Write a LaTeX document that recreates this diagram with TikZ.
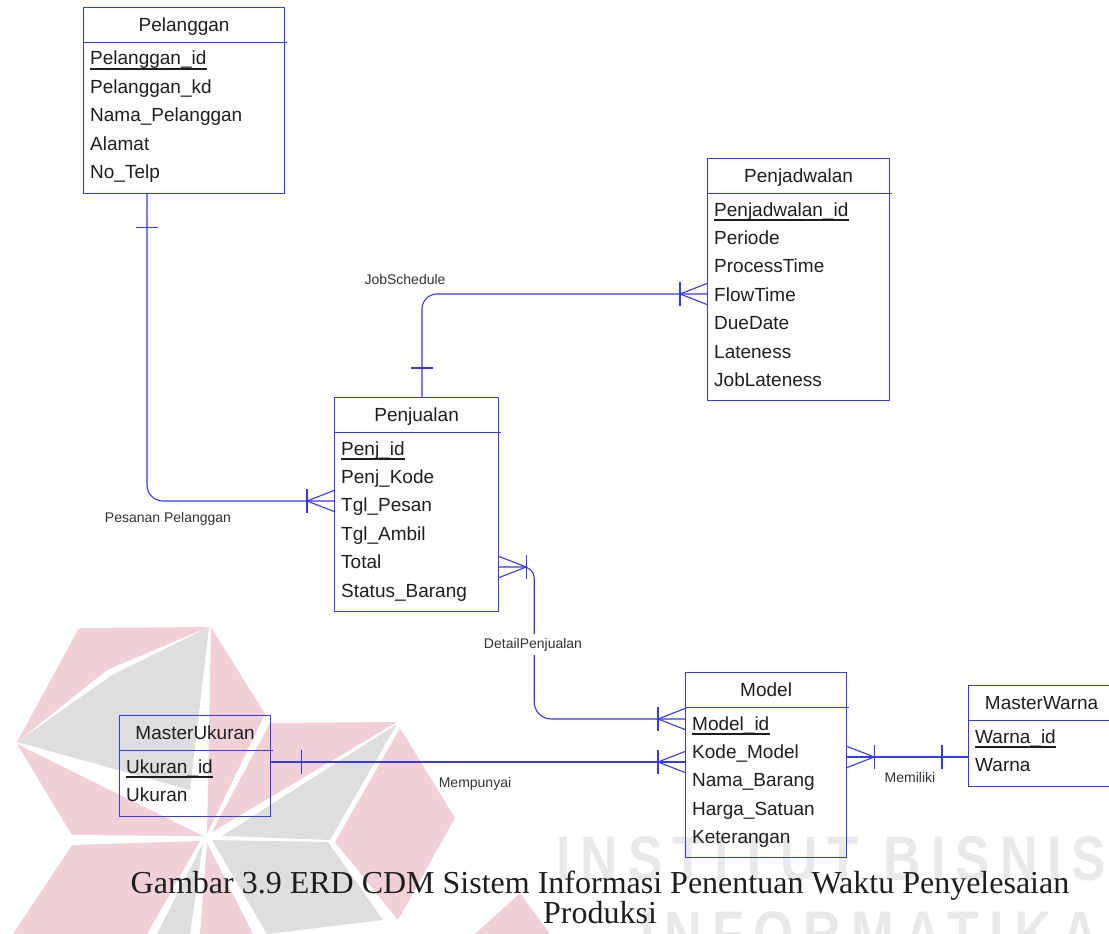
\documentclass[tikz,border=0pt]{standalone}
\usepackage{fontspec}
\setmainfont{Liberation Sans}
\newfontfamily\captionserif{Liberation Serif}
\newfontfamily\markfont{Liberation Sans}[FakeStretch=0.82,LetterSpace=16]
\usetikzlibrary{calc}

\definecolor{erdblue}{RGB}{55,55,250}
\definecolor{inkgray}{RGB}{30,30,30}
\definecolor{lblgray}{RGB}{50,50,50}
\definecolor{logopink}{RGB}{241,209,215}
\definecolor{logogray}{RGB}{222,222,222}
\definecolor{marktext}{RGB}{233,233,233}

\tikzset{
  rel/.style={draw=erdblue, line width=1.1pt},
  tbl/.style={draw=erdblue, line width=1.2pt, inner sep=0pt},
  tblline/.style={draw=erdblue, line width=1.1pt},
  ttl/.style={inner sep=0pt, anchor=base, font=\fontsize{19}{19}\selectfont, text=inkgray},
  attr/.style={inner sep=0pt, anchor=base west, font=\fontsize{19}{19}\selectfont, text=inkgray},
  pkline/.style={draw=inkgray, line width=1.6pt},
  lbl/.style={inner sep=1pt, anchor=base, font=\fontsize{14}{14}\selectfont, text=lblgray},
  capt/.style={inner sep=0pt, anchor=base, font=\captionserif\fontsize{32}{32}\selectfont, text=inkgray},
  wmword/.style={inner sep=0pt, anchor=base west, font=\markfont\bfseries\fontsize{63}{63}\selectfont, text=marktext},
  crowW/.pic={\draw[rel] (0,-10.5) -- (-27,0) -- (0,10.5); \draw[rel] (-27,-12) -- (-27,12);},
  crowE/.pic={\draw[rel] (0,-10.5) -- (27,0) -- (0,10.5); \draw[rel] (27,-12) -- (27,12);},
  tickH/.pic={\draw[rel] (-11,0) -- (11,0);},
  tickV/.pic={\draw[rel] (0,-12) -- (0,12);}
}

% entity box: #1 name, #2 left, #3 top, #4 width, #5 height, #6 title, #7 key, #8 attributes
\newcommand{\erdtable}[8]{%
  \node[tbl, minimum width=#4, minimum height=#5, anchor=north west] (#1) at (#2,#3) {};
  \draw[tblline] ([yshift=-35.5]#1.north west) -- ([yshift=-35.5,xshift=2]#1.north east);
  \node[ttl] (#1-t) at ([yshift=-24.5]#1.north) {#6};
  \node[attr] (#1-0) at ([xshift=7,yshift=-58]#1.north west) {#7};
  \draw[pkline] ([yshift=-4]#1-0.base west) -- ([yshift=-4]#1-0.base east);
  \foreach \a [count=\i] in {#8} {
    \node[attr] (#1-\i) at ([xshift=7,yshift={-58-28.4*\i}]#1.north west) {\a};
  }%
}

\begin{document}
\begin{tikzpicture}[x=1pt, y=-1pt, line join=miter]
\useasboundingbox (0,0) rectangle (1109,934);
\clip (0,0) rectangle (1109,934);

% faint emblem and lettering in the background
\begin{scope}
  \fill[logopink] (79,628) -- (209,627) -- (107,670) -- (17,742) -- cycle;
  \fill[logogray] (209,627) -- (112,675) -- (17,742) -- (190,790) -- cycle;
  \fill[logopink] (17,744) -- (203,836) -- (72,835) -- cycle;
  \fill[logopink] (211,627) -- (265,714) -- (207,834) -- cycle;
  \fill[logopink] (270,723) -- (397,722) -- (212,832) -- cycle;
  \fill[logogray] (397,724) -- (330,840) -- (222,836) -- cycle;
  \fill[logopink] (400,728) -- (455,818) -- (398,920) -- (335,842) -- cycle;
  \fill[logogray] (212,840) -- (328,842) -- (383,920) -- (267,934) -- cycle;
  \fill[logopink] (72,845) -- (200,841) -- (147,934) -- (13,934) -- cycle;
  \fill[logogray] (203,843) -- (157,934) -- (190,934) -- cycle;
  \fill[logopink] (207,843) -- (200,934) -- (253,934) -- cycle;
  \fill[logopink] (475,934) -- (520,893) -- (550,934) -- cycle;
  \node[wmword] (wm1) at (556,880) {INSTITUT BISNIS};
  \node[wmword] (wm2) at (640,955) {INFORMATIKA};
\end{scope}

% entities
\erdtable{pel}{83}{7}{201}{186}{Pelanggan}{Pelanggan\_id}{Pelanggan\_kd,Nama\_Pelanggan,Alamat,No\_Telp}
\erdtable{jad}{707}{158}{182}{242}{Penjadwalan}{Penjadwalan\_id}{Periode,ProcessTime,FlowTime,DueDate,Lateness,JobLateness}
\erdtable{pjl}{334}{397}{164}{214}{Penjualan}{Penj\_id}{Penj\_Kode,Tgl\_Pesan,Tgl\_Ambil,Total,Status\_Barang}
\erdtable{mdl}{685}{672}{161}{185}{Model}{Model\_id}{Kode\_Model,Nama\_Barang,Harga\_Satuan,Keterangan}
\erdtable{uk}{119}{715}{151}{101}{MasterUkuran}{Ukuran\_id}{Ukuran}
\erdtable{wr}{968}{685}{146}{101}{MasterWarna}{Warna\_id}{Warna}

% Pesanan Pelanggan
\draw[rel, rounded corners=16] ([xshift=64]pel.south west) |- ([yshift=-104]pjl.north west);
\pic at ([xshift=64,yshift=-33]pel.south west) {tickH};
\pic at ([yshift=-104]pjl.north west) {crowW};
\node[lbl] (l-pesan) at (168,522) {Pesanan Pelanggan};

% JobSchedule
\draw[rel, rounded corners=15] ([xshift=88]pjl.north west) |- ([yshift=-136]jad.north west);
\pic at ([xshift=88,yshift=29]pjl.north west) {tickH};
\pic at ([yshift=-136]jad.north west) {crowW};
\node[lbl] (l-job) at (405,284) {JobSchedule};

% DetailPenjualan
\draw[rel] ([yshift=-170]pjl.north east) [rounded corners=11] -- ++(35,0) [rounded corners=17] |- ([yshift=-47]mdl.north west);
\pic at ([yshift=-170]pjl.north east) {crowE};
\pic at ([yshift=-47]mdl.north west) {crowW};
\node[lbl, fill=white, inner ysep=4pt] (l-detail) at (533,648) {DetailPenjualan};

% Mempunyai
\draw[rel] ([yshift=-47]uk.north east) -- ([yshift=-90]mdl.north west);
\pic at ([xshift=30,yshift=-47]uk.north east) {tickV};
\pic at ([yshift=-90]mdl.north west) {crowW};
\node[lbl] (l-punya) at (475,787) {Mempunyai};

% Memiliki
\draw[rel] ([yshift=-85]mdl.north east) -- ([yshift=-72]wr.north west);
\pic at ([yshift=-85]mdl.north east) {crowE};
\pic at ([xshift=-26,yshift=-72]wr.north west) {tickV};
\node[lbl] (l-milik) at (910,782) {Memiliki};

% figure caption
\node[capt] (cap1) at (600,893) {Gambar 3.9 ERD CDM Sistem Informasi Penentuan Waktu Penyelesaian};
\node[capt] (cap2) at (600,923) {Produksi};
\end{tikzpicture}
\end{document}
